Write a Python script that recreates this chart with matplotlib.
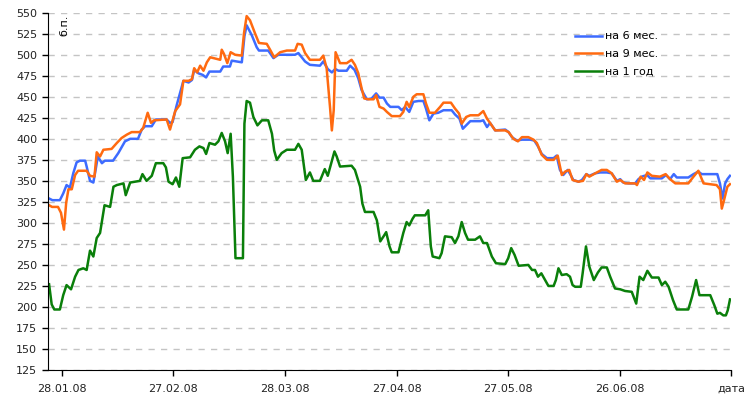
import matplotlib
matplotlib.use("Agg")
import matplotlib.pyplot as plt

# days counted from 28.01.08
blue_days = [-3.4, -2.5, -0.5, 0.4, 1.3, 2.2, 3.1, 4.0, 4.9, 6.3, 6.7, 7.6, 8.5, 9.1, 9.7, 10.8, 11.6, 13.8,
             15.2, 17.0, 18.4, 20.5, 21.5, 22.4, 24.2, 25.3, 28.2, 29.1, 29.8, 30.9, 32.7, 34.1, 35.0, 35.6,
             36.7, 37.9, 38.8, 39.7, 42.6, 43.4, 45.2, 45.7, 48.4, 49.1, 49.7, 51.1, 52.4, 53.0, 55.5, 56.9,
             58.2, 62.7, 63.6, 65.4, 66.7, 69.4, 70.3, 71.5, 72.6, 73.5, 74.4, 76.6, 77.5, 78.7, 79.7, 80.6,
             81.1, 82.0, 83.3, 84.5, 85.4, 86.5, 87.4, 88.3, 90.5, 91.4, 92.3, 93.4, 94.5, 95.9, 97.2, 97.9,
             98.8, 99.9, 101.2, 102.6, 104.8, 105.7, 106.9, 107.8, 108.7, 109.8, 112.5, 113.3, 114.3, 115.1,
             116.5, 119.2, 120.1, 121.0, 122.3, 123.7, 125.9, 127.0, 128.0, 129.0, 130.4, 132.2, 133.0, 133.9,
             134.8, 136.0, 136.9, 137.5, 138.9, 139.8, 141.0, 141.8, 143.4, 144.7, 146.5, 147.8, 149.2, 150.1,
             150.9, 152.3, 154.1, 155.0, 155.9, 157.3, 158.2, 161.3, 162.4, 163.5, 164.5, 165.3, 168.4, 169.8,
             171.1, 172.0, 176.2, 176.9, 177.6, 178.3, 178.9, 179.6]
blue_vals = [329, 327, 327, 335, 345, 342, 359, 372, 374, 374, 367, 350, 348, 363, 379, 371, 374, 374,
             383, 397, 400, 400, 411, 415, 415, 423, 423, 419, 420, 440, 469, 467, 470, 482,
             478, 476, 473, 480, 480, 486, 486, 493, 491, 522, 535, 523, 509, 505, 505, 496,
             500, 500, 502, 492, 488, 487, 492, 483, 479, 483, 481, 481, 487, 482, 472, 458,
             454, 447, 448, 454, 449, 449, 442, 438, 438, 434, 438, 432, 444, 445, 445, 436,
             422, 430, 431, 434, 434, 429, 424, 412, 416, 421, 421, 422, 414, 419,
             410, 411, 408, 402, 398, 399, 399, 398, 391, 382, 377, 377, 380, 363,
             357, 363, 356, 351, 349, 351, 358, 356, 359, 360, 360, 359, 350, 352,
             348, 347, 347, 352, 355, 357, 353, 353, 357, 352, 358, 354, 354, 358,
             361, 358, 358, 347, 329, 347, 352, 356]

orange_days = [-3.4, -2.6, -1.0, -0.2, 0.6, 1.2, 1.8, 2.7, 3.6, 4.4, 6.7, 7.6, 8.8, 9.4, 10.3, 11.2, 13.4,
               14.8, 16.1, 17.5, 18.8, 21.0, 21.9, 23.1, 24.0, 24.8, 28.2, 29.1, 30.5, 31.8, 32.7, 34.1,
               35.0, 35.6, 36.4, 37.2, 38.1, 39.0, 39.9, 41.7, 42.6, 43.0, 43.6, 44.5, 45.4, 46.6, 48.4,
               49.0, 49.7, 50.6, 51.9, 53.0, 55.1, 56.0, 57.1, 58.7, 60.5, 62.7, 63.4, 64.5, 65.4, 66.7,
               69.4, 70.3, 71.2, 72.1, 72.6, 73.1, 73.6, 74.8, 76.6, 77.9, 78.8, 79.7, 80.6, 81.3, 82.4,
               83.8, 84.5, 85.4, 86.5, 87.4, 88.7, 90.9, 91.8, 92.7, 93.4, 94.5, 95.4, 97.2, 97.9, 98.8,
               100.3, 101.7, 102.6, 104.6, 105.7, 106.8, 107.5, 108.7, 109.8, 112.0, 113.3, 114.3, 115.1,
               116.5, 119.2, 120.1, 121.4, 122.6, 123.7, 125.4, 126.8, 127.7, 129.0, 130.4, 132.2, 133.3,
               134.4, 135.3, 136.4, 137.3, 138.9, 140.1, 141.0, 141.8, 143.4, 145.1, 146.5, 147.8, 149.2,
               150.1, 151.4, 154.1, 154.6, 155.6, 156.5, 157.4, 158.6, 160.8, 162.3, 163.5, 164.9, 168.4,
               169.8, 171.1, 172.5, 176.0, 176.9, 177.4, 178.0, 178.9, 179.6]
orange_vals = [321, 319, 319, 312, 292, 324, 340, 340, 357, 362, 362, 356, 355, 384, 379, 387, 388,
               395, 401, 405, 408, 408, 413, 431, 419, 422, 423, 411, 433, 441, 469, 469,
               471, 484, 479, 487, 481, 491, 497, 495, 494, 506, 501, 490, 503, 500, 499,
               526, 546, 541, 526, 514, 513, 506, 497, 503, 505, 505, 513, 512, 502, 494,
               494, 499, 484, 438, 410, 434, 503, 490, 490, 494, 488, 478, 460, 448, 447,
               447, 452, 438, 436, 432, 427, 427, 432, 444, 438, 450, 453, 453, 442, 431,
               431, 438, 443, 443, 436, 430, 418, 426, 428, 428, 433, 424, 419,
               410, 410, 408, 400, 397, 402, 402, 399, 395, 381, 375, 375, 380,
               357, 361, 363, 351, 349, 350, 358, 355, 359, 363, 363, 359, 349,
               351, 347, 347, 345, 355, 351, 360, 356, 355, 358, 352, 347, 347,
               355, 362, 347, 345, 340, 317, 327, 343, 346]

green_days = [-3.4, -2.7, -2.0, -0.5, 0.4, 1.3, 2.5, 3.6, 4.5, 5.8, 6.7, 7.6, 8.5, 9.4, 10.3, 11.5, 13.0,
              13.9, 14.8, 16.6, 17.2, 18.4, 21.0, 21.7, 22.8, 24.2, 25.3, 27.3, 28.0, 28.7, 29.8, 30.7,
              31.6, 32.5, 34.5, 35.8, 37.0, 38.1, 38.8, 39.7, 41.2, 42.1, 43.0, 43.9, 44.6, 45.4, 46.0,
              46.7, 48.7, 49.1, 49.7, 50.6, 51.5, 52.6, 53.8, 55.5, 56.5, 57.1, 57.8, 59.1, 60.5, 62.7,
              63.6, 64.5, 65.6, 66.7, 67.6, 69.4, 70.7, 71.5, 73.3, 73.9, 74.8, 77.9, 78.8, 80.2, 80.8,
              81.5, 83.8, 84.7, 85.6, 86.5, 87.2, 88.1, 88.7, 90.5, 91.0, 91.8, 92.7, 93.4, 94.3, 94.9,
              97.7, 98.5, 99.2, 99.7, 101.5, 102.1, 103.0, 104.8, 105.7, 106.6, 107.5, 108.4, 109.2,
              111.1, 112.4, 113.3, 114.3, 115.6, 116.7, 119.2, 120.0, 120.8, 121.7, 122.8, 125.4, 126.4,
              127.2, 128.0, 128.9, 129.8, 130.8, 132.2, 132.8, 133.5, 134.4, 135.7, 136.6, 137.3, 138.0,
              139.5, 140.0, 140.9, 141.8, 143.0, 144.1, 145.1, 146.5, 147.4, 148.7, 150.1, 151.4, 153.2,
              154.4, 155.3, 156.3, 157.4, 158.6, 160.4, 161.3, 162.2, 163.1, 164.3, 165.3, 168.4, 169.4,
              170.5, 171.4, 174.3, 175.4, 176.2, 176.9, 177.8, 178.5, 179.0, 179.6]
green_vals = [227, 203, 197, 197, 214, 226, 221, 236, 244, 246, 244, 267, 260, 282, 288, 321, 319,
              343, 345, 347, 333, 348, 350, 358, 350, 356, 371, 371, 366, 349, 346, 354,
              343, 377, 378, 387, 391, 389, 382, 395, 393, 397, 407, 397, 383, 406, 355,
              258, 258, 418, 445, 443, 426, 416, 422, 422, 406, 386, 375, 383, 387, 387,
              394, 387, 351, 360, 350, 350, 364, 356, 385, 379, 367, 368, 363, 343, 323,
              313, 313, 303, 278, 284, 289, 272, 265, 265, 274, 288, 301, 297, 305, 309,
              309, 315, 272, 260, 258, 264, 284, 283, 276, 284, 301, 288, 280,
              280, 284, 276, 276, 260, 252, 251, 258, 270, 262, 249, 250, 244,
              244, 236, 240, 233, 225, 225, 232, 246, 238, 239, 236, 226, 224,
              224, 240, 272, 248, 232, 241, 247, 247, 236, 222, 221, 219, 218,
              204, 236, 232, 243, 235, 235, 226, 230, 224, 208, 197, 197, 212,
              232, 214, 214, 202, 192, 193, 190, 190, 196, 209]

tick_days = [0, 30, 60, 90, 120, 150, 180]
tick_labels = ["28.01.08", "27.02.08", "28.03.08", "27.04.08", "27.05.08", "26.06.08", "дата"]
y_ticks = list(range(125, 551, 25))

fig = plt.figure(figsize=(7.53, 4.05), dpi=100)
ax = fig.add_axes([0.0634, 0.0864, 0.9080, 0.8822])

ax.plot(blue_days, blue_vals, color="#3D6BFF", linewidth=1.8, label="на 6 мес.")
ax.plot(orange_days, orange_vals, color="#FF6A10", linewidth=1.8, label="на 9 мес.")
ax.plot(green_days, green_vals, color="#0A7F0A", linewidth=1.8, label="на 1 год")

ax.set_xlim(-3.76, 180)
ax.set_ylim(125, 550)
ax.set_yticks(y_ticks)
ax.set_xticks(tick_days)
ax.set_xticklabels(tick_labels)
ax.tick_params(axis="both", labelsize=8, length=4, width=1, color="black", labelcolor="#222222")
ax.tick_params(axis="x", pad=6)

ax.yaxis.grid(True, color="#C4C4C4", linewidth=1, linestyle=(0, (4.5, 4.5)))
ax.set_axisbelow(True)
for s in ["top", "right"]:
    ax.spines[s].set_visible(False)
ax.spines["left"].set_color("black")
ax.spines["bottom"].set_color("black")

ax.text(0.024, 0.995, "б.п.", transform=ax.transAxes, rotation=90,
        ha="center", va="top", fontsize=8)

ax.legend(loc="upper left", bbox_to_anchor=(0.765, 0.96), frameon=False, fontsize=8,
          handlelength=2.4, handletextpad=0.3, labelspacing=0.7, borderaxespad=0)

fig.savefig("out.png", dpi=100)
